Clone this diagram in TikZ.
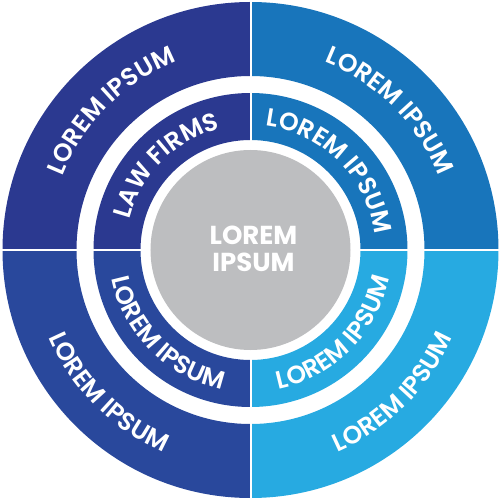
\documentclass[tikz,border=0pt]{standalone}
\usepackage{fontspec}
\setmainfont{Poppins}
\newfontfamily\ringfont{Poppins SemiBold}
\usepackage{xcolor}
\usetikzlibrary{decorations.text}

\definecolor{navyTL}{RGB}{43,57,144}
\definecolor{navyBL}{RGB}{41,72,156}
\definecolor{blueTR}{RGB}{24,117,187}
\definecolor{cyanBR}{RGB}{39,170,225}
\definecolor{hubgray}{RGB}{189,190,192}

\tikzset{
  ringtext/.style={decorate, decoration={text along path, text align=center, text color=white,
    text={|\ringfont\fontsize{25}{25}\selectfont|#1}}},
  divider/.style={white, line width=2pt}
}

\begin{document}
\begin{tikzpicture}[x=1pt, y=1pt]
  \useasboundingbox (-250.5,-250) rectangle (248.5,250);
  % quadrants, outer and inner band
  \foreach \a/\col in {90/navyTL, 0/blueTR, 270/cyanBR, 180/navyBL}{
    \fill[\col] (\a:174) arc[start angle=\a, end angle=\a+90, radius=174]
      -- (\a+90:248) arc[start angle=\a+90, end angle=\a, radius=248] -- cycle;
    \fill[\col] (\a:110) arc[start angle=\a, end angle=\a+90, radius=110]
      -- (\a+90:157) arc[start angle=\a+90, end angle=\a, radius=157] -- cycle;
  }
  \draw[divider] (-250,0) -- (250,0);
  \draw[divider] (0,-250) -- (0,250);
  % hub
  \fill[hubgray] (0,0) circle[radius=100];
  \node[font=\bfseries\fontsize{26}{27}\selectfont, text=white, align=center] (hub) at (3,1.5) {LOREM\\IPSUM};
  % upper labels, read clockwise
  \path[ringtext={LOREM IPSUM}] (180:202) arc[start angle=180, end angle=90, radius=202];
  \path[ringtext={LAW FIRMS}] (180:125) arc[start angle=180, end angle=90, radius=125];
  \path[ringtext={LOREM IPSUM}] (90:202) arc[start angle=90, end angle=0, radius=202];
  \path[ringtext={LOREM IPSUM}] (90:125) arc[start angle=90, end angle=0, radius=125];
  % lower labels, read counterclockwise
  \path[ringtext={LOREM IPSUM}] (180:220) arc[start angle=180, end angle=270, radius=220];
  \path[ringtext={LOREM IPSUM}] (180:142) arc[start angle=180, end angle=270, radius=142];
  \path[ringtext={LOREM IPSUM}] (270:220) arc[start angle=270, end angle=360, radius=220];
  \path[ringtext={LOREM IPSUM}] (270:142) arc[start angle=270, end angle=360, radius=142];
\end{tikzpicture}
\end{document}
